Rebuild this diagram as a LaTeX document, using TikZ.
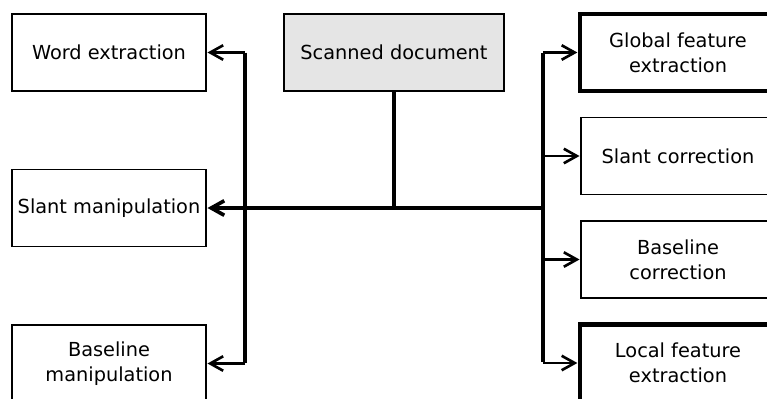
\documentclass[tikz,border=0pt]{standalone}
\usepackage{fontspec}
\setmainfont{DejaVu Sans}
\usepackage{tikz}
\usetikzlibrary{arrows.meta}

\begin{document}
\begin{tikzpicture}[
            > = {Straight Barb[length=2.6mm, width=2.9mm]}, % open arrow head
            shorten > = 0.3pt, % arrow head just touches the box
            node distance = 5.7cm, % distance between columns
            semithick % line style
        ]

        \tikzstyle{block}=[
            draw = black,
            line width = 1.1pt,
            fill = white,
            minimum width = 3.88cm,
            minimum height = 1.54cm,
            inner sep = 0pt,
            align = center,
            font = \fontsize{11}{14.2}\selectfont
        ]
        \tikzstyle{mainblock}=[block, line width = 2.4pt, minimum width = 3.92cm]
        \tikzstyle{bus}=[line width = 2.1pt]
        \tikzstyle{link}=[->, line width = 1.5pt]

        \clip (-7.88,1.05) rectangle (7.46,-6.91);

        \node[block, fill = gray!20, minimum width = 4.4cm] (scan) {Scanned document};
        \node[block] (word) [left of=scan] {Word extraction};
        \node[block] (slantm) [below of=word, node distance=3.11cm] {Slant manipulation};
        \node[block] (basem) [below of=slantm, node distance=3.11cm] {Baseline\\manipulation};

        \node[mainblock] (glob) [right of=scan, node distance=5.68cm] {Global feature\\extraction};
        \node[block] (slantc) [below of=glob, node distance=2.07cm] {Slant correction};
        \node[block] (basec) [below of=slantc, node distance=2.07cm] {Baseline\\correction};
        \node[mainblock] (local) [below of=basec, node distance=2.07cm] {Local feature\\extraction};

        % the two vertical buses
        \coordinate (lb) at (-2.98,0);
        \coordinate (rb) at (2.98,0);

        \draw[bus] (scan) -- (scan |- slantm);
        \draw[bus] (lb |- word) -- (lb |- basem);
        \draw[bus] (rb |- glob) -- (rb |- local);
        \draw[bus, ->] (rb |- slantm) -- (slantm);

        \path[link] (lb |- word) edge (word);
        \path[link] (lb |- basem) edge (basem);
        \path[link] (rb |- glob) edge (glob);
        \path[link] (rb |- slantc) edge (slantc);
        \path[link] (rb |- basec) edge (basec);
        \path[link] (rb |- local) edge (local);

\end{tikzpicture}
\end{document}
